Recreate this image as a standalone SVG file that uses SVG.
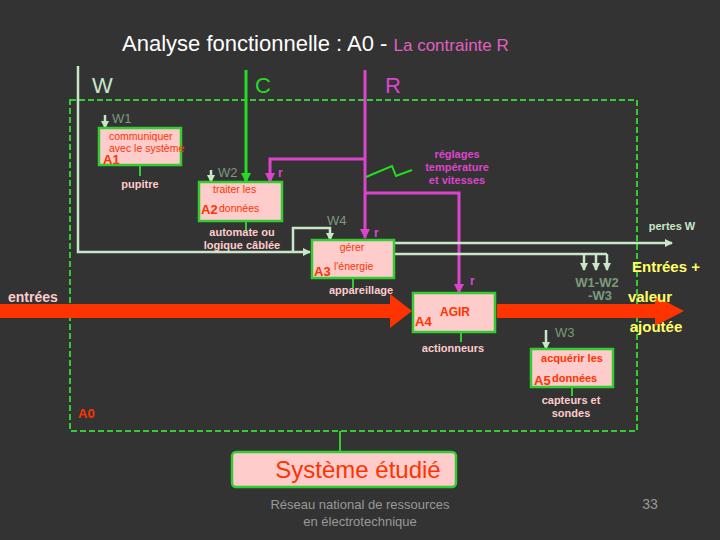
<svg xmlns="http://www.w3.org/2000/svg" width="720" height="540" viewBox="0 0 720 540">
<defs>
<style>
text{font-family:"Liberation Sans",Arial,sans-serif}
.box{fill:#ffcccc;stroke:#33cc33;stroke-width:2.5}
.lbl{fill:#ff3300;font-size:10.5px}
.id{fill:#ff3300;font-size:13px;font-weight:bold}
.mech{fill:#ffcccc;font-size:11px;font-weight:bold}
.stub{stroke:#33cc33;stroke-width:2}
.w{stroke:#c8e6c8;stroke-width:2.5;fill:none}
.wt{fill:#7a9a7a;font-size:13px}
.m{stroke:#dd44cc;stroke-width:3;fill:none}
</style>
<marker id="aw" markerWidth="8" markerHeight="8" refX="7" refY="4" orient="auto" markerUnits="userSpaceOnUse"><path d="M0,0L8,4L0,8z" fill="#c8e6c8"/></marker>
<marker id="am" markerWidth="10" markerHeight="10" refX="9" refY="5" orient="auto" markerUnits="userSpaceOnUse"><path d="M0,0L10,5L0,10z" fill="#dd44cc"/></marker>
<marker id="ag" markerWidth="10" markerHeight="10" refX="9" refY="5" orient="auto" markerUnits="userSpaceOnUse"><path d="M0,0L10,5L0,10z" fill="#22dd22"/></marker>
</defs>
<rect width="720" height="540" fill="#333333"/>
<text x="122" y="51" fill="#ffffff" font-size="22">Analyse fonctionnelle : A0 - <tspan fill="#e060c0" font-size="17">La contrainte R</tspan></text>
<rect x="70" y="100" width="567" height="331" fill="none" stroke="#33cc33" stroke-width="2" stroke-dasharray="6,3"/>
<text x="92" y="93" fill="#c8e6c8" font-size="22">W</text>
<text x="255" y="93" fill="#22dd22" font-size="22">C</text>
<text x="385" y="93" fill="#dd44cc" font-size="22">R</text>
<text x="78" y="418" class="id">A0</text>
<g id="connectors">
<path class="w" d="M78,66V252H310" marker-end="url(#aw)"/>
<path class="w" d="M293,252V228H330V240" marker-end="url(#aw)"/>
<path d="M246,70V182" stroke="#22dd22" stroke-width="3" marker-end="url(#ag)"/>
<path class="m" d="M365,70V238" marker-end="url(#am)"/>
<path class="m" d="M365,159H270V182" marker-end="url(#am)"/>
<path class="m" d="M365,193H459V293" marker-end="url(#am)"/>
<path d="M366,177L392,166L396,176L412,170" stroke="#22dd22" stroke-width="2" fill="none"/>
<path class="w" d="M395,243H672" marker-end="url(#aw)"/>
<path class="w" d="M395,254H607"/>
<path class="w" d="M584,254V270" marker-end="url(#aw)"/>
<path class="w" d="M596,254V270" marker-end="url(#aw)"/>
<path class="w" d="M607,254V270" marker-end="url(#aw)"/>
<path class="w" d="M105,115V128" marker-end="url(#aw)"/>
<path class="w" d="M211,170V182" marker-end="url(#aw)"/>
<path class="w" d="M546,330V349" marker-end="url(#aw)"/>
<path d="M0,304H390V294L412,311L390,328V318H0z" fill="#ff3300"/>
<path d="M497,304H655V296L684,311L655,326V318H497z" fill="#ff3300"/>
<path class="stub" d="M140,165V176M246,221V230M353,278V288M461,332V342M572,387V396M340,431V452"/>
</g>
<text x="112" y="123" class="wt">W1</text>
<text x="218" y="177" class="wt">W2</text>
<text x="327" y="225" class="wt">W4</text>
<text x="555" y="337" class="wt">W3</text>
<text x="278" y="177" fill="#dd44cc" font-size="12" font-weight="bold">r</text>
<text x="374" y="237" fill="#dd44cc" font-size="12" font-weight="bold">r</text>
<text x="470" y="285" fill="#dd44cc" font-size="12" font-weight="bold">r</text>
<text fill="#dd44cc" font-size="11" font-weight="bold" text-anchor="middle"><tspan x="457" y="158">réglages</tspan><tspan x="457" y="171">température</tspan><tspan x="457" y="184">et vitesses</tspan></text>
<text x="672" y="230" fill="#c8e6c8" font-size="11" font-weight="bold" text-anchor="middle">pertes W</text>
<text fill="#7a9a7a" font-size="13" font-weight="bold" text-anchor="middle"><tspan x="597" y="287">W1-W2</tspan><tspan x="600" y="300">-W3</tspan></text>
<text fill="#ffff66" font-size="15" font-weight="bold" text-anchor="middle"><tspan x="666" y="272">Entrées +</tspan><tspan x="650" y="302">valeur</tspan><tspan x="656" y="332">ajoutée</tspan></text>
<text x="8" y="302" fill="#ffcccc" font-size="14" font-weight="bold">entrées</text>
<g id="A1"><rect class="box" x="99" y="128" width="82" height="37"/><text class="lbl" x="109" y="140">communiquer</text><text class="lbl" x="109" y="152">avec le système</text><text class="id" x="103" y="164">A1</text><text class="mech" x="140" y="188" text-anchor="middle">pupitre</text></g>
<g id="A2"><rect class="box" x="199" y="182" width="83" height="39"/><text class="lbl" x="213" y="193">traiter les</text><text class="lbl" x="219" y="212">données</text><text class="id" x="201" y="214">A2</text><text class="mech" x="242" y="236" text-anchor="middle">automate ou</text><text class="mech" x="242" y="249" text-anchor="middle">logique câblée</text></g>
<g id="A3"><rect class="box" x="312" y="240" width="82" height="38"/><text class="lbl" x="352" y="251" text-anchor="middle">gérer</text><text class="lbl" x="334" y="270">l'énergie</text><text class="id" x="314" y="276">A3</text><text class="mech" x="361" y="294" text-anchor="middle">appareillage</text></g>
<g id="A4"><rect class="box" x="413" y="293" width="82" height="39"/><text x="455" y="316" fill="#ff3300" font-size="12" font-weight="bold" text-anchor="middle">AGIR</text><text class="id" x="415" y="326">A4</text><text class="mech" x="453" y="352" text-anchor="middle">actionneurs</text></g>
<g id="A5"><rect class="box" x="531" y="349" width="82" height="38"/><text x="572" y="362" fill="#ff3300" font-size="11" font-weight="bold" text-anchor="middle">acquérir les</text><text x="552" y="382" fill="#ff3300" font-size="11" font-weight="bold">données</text><text class="id" x="534" y="385">A5</text><text class="mech" x="571" y="404" text-anchor="middle">capteurs et</text><text class="mech" x="571" y="417" text-anchor="middle">sondes</text></g>
<g id="systeme"><rect x="232" y="452" width="224" height="35" rx="4" fill="#ffcccc" stroke="#33cc33" stroke-width="2.5"/><text x="358" y="478" fill="#ff3300" font-size="24" text-anchor="middle">Système étudié</text></g>
<text fill="#999999" font-size="13" text-anchor="middle"><tspan x="360" y="509">Réseau national de ressources</tspan><tspan x="360" y="526">en électrotechnique</tspan></text>
<text x="650" y="509" fill="#999999" font-size="14" text-anchor="middle">33</text>
</svg>
